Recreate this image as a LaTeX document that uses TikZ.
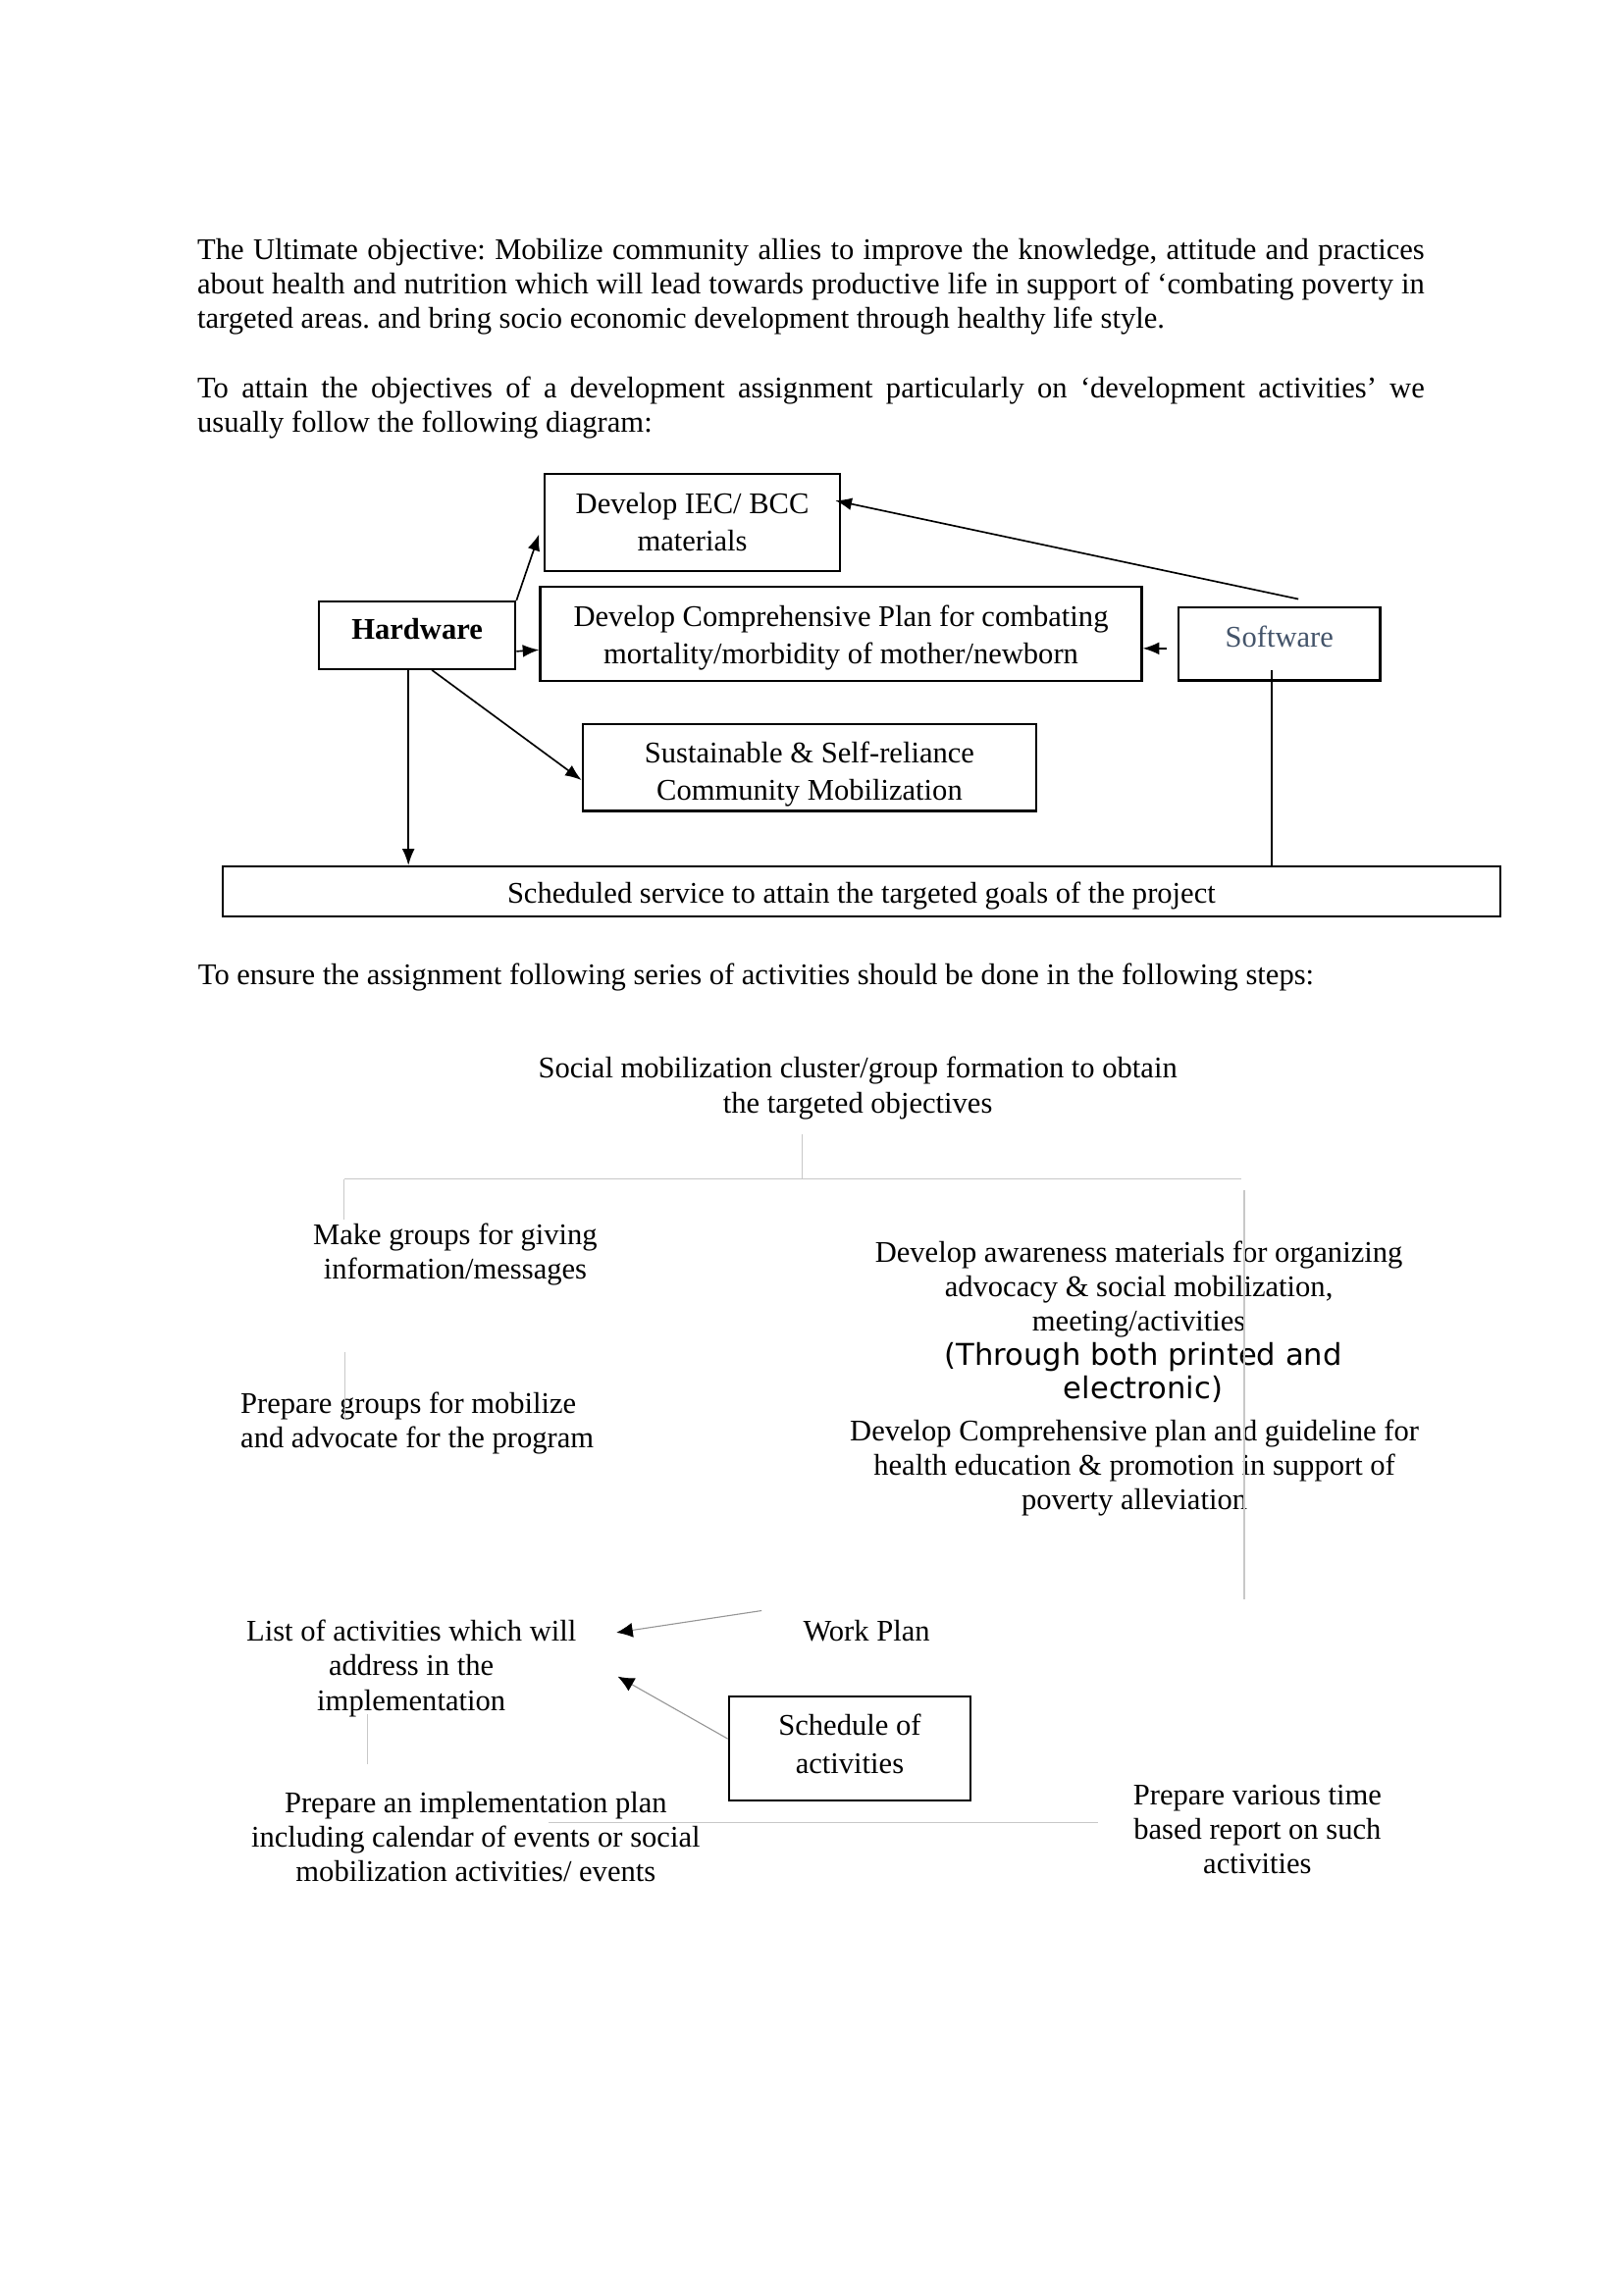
\documentclass[tikz,border=0pt]{standalone}
\usepackage{fontspec}
\setmainfont{Liberation Serif}
\newfontfamily\dejavu{DejaVu Sans}
\usetikzlibrary{arrows.meta, positioning, calc}
\definecolor{softblue}{RGB}{68,84,106}
\definecolor{chartgray}{RGB}{200,200,200}
\definecolor{arrgray}{RGB}{150,150,150}

\begin{document}
\frenchspacing
\begin{tikzpicture}[x=0.5368pt, y=-0.5368pt, font=\fontsize{11}{12.65}\selectfont,
    box/.style={draw, line width=0.8pt, inner sep=0pt, align=center, font=\fontsize{11}{13.7}\selectfont},
    txt/.style={inner sep=0pt, align=center, yshift=-1.3pt},
    arr/.style={-{Latex[length=6pt,width=4.6pt]}, line width=0.6pt},
    grayarr/.style={-{Latex[length=6pt,width=5.4pt,color=black]}, draw=arrgray, line width=0.4pt},
    grayline/.style={draw=chartgray, line width=0.5pt}]
    \useasboundingbox (0,0) rectangle (1109,1568);

    \node[txt, align=justify, text width=450pt] (goal) at (554,193.5)
        {The Ultimate objective: Mobilize community allies to improve the knowledge, attitude and practices\linebreak
         about health and nutrition which will lead towards productive life in support of ‘combating poverty in\linebreak
         targeted areas. and bring socio economic development through healthy life style.};
    \node[txt, align=justify, text width=450pt] (attain) at (554,276)
        {To attain the objectives of a development assignment particularly on ‘development activities’ we\linebreak
         usually follow the following diagram:};

    \node[box, minimum width=72pt, minimum height=24.7pt, text height=8pt, text depth=4.8pt,
          font=\fontsize{11}{13.7}\selectfont\bfseries] (hw) at (285,434) {Hardware};
    \node[box, minimum width=108.4pt, minimum height=35.4pt, text height=22.8pt, text depth=2pt] (iec) at (473,357)
        {Develop IEC/ BCC\\materials};
    \node[box, minimum width=220.6pt, minimum height=34.4pt, text height=24.2pt, text depth=2pt] (plan) at (574.5,433)
        {Develop Comprehensive Plan for combating\\mortality/morbidity of mother/newborn};
    \node[box, minimum width=74pt, minimum height=26.8pt, text height=8pt, text depth=6pt, text=softblue] (sw) at (874,440)
        {Software};
    \node[box, minimum width=166.4pt, minimum height=31.7pt, text height=25.8pt, text depth=2pt] (sus) at (553,524.5)
        {Sustainable \& Self-reliance\\Community Mobilization};
    \node[box, minimum width=468.6pt, minimum height=18.3pt, text height=10pt, text depth=1pt] (sched) at (588.5,609)
        {Scheduled service to attain the targeted goals of the project};

    \coordinate (hwdown) at ($(hw.south)+(-6,0)$);
    \coordinate (swdown) at ($(sw.south)+(-5,-8)$);
    \draw[arr] (hw.north east) -- ($(iec.west)+(-3,8)$);
    \draw[arr] ($(hw.east)+(0,11)$) -- ($(plan.west)+(0,11)$);
    \draw[arr] ($(hw.south)+(10,0)$) -- ($(sus.west)+(0,8.5)$);
    \draw[arr] (hwdown) -- (hwdown |- sched.north);
    \draw[arr] ($(sw.north)+(13,-5)$) -- ($(iec.east)+(-4,-15)$);
    \draw[arr] ($(sw.west)+(-7,3)$) -- ($(plan.east)+(0,10)$);
    \draw[line width=0.6pt] (swdown) -- (swdown |- sched.north);

    \node[txt, anchor=west] (ensure) at (135,665)
        {To ensure the assignment following series of activities should be done in the following steps:};

    \node[txt] (cluster) at (586,741) {Social mobilization cluster/group formation to obtain\\the targeted objectives};
    \node[txt] (groups) at (311,854.5) {Make groups for giving\\information/messages};
    \node[txt, anchor=west, align=left] (advocate) at (164,970) {Prepare groups for mobilize\\and advocate for the program};
    \node[txt] (aware) at (778,878.5)
        {Develop awareness materials for organizing\\advocacy \& social mobilization,\\meeting/activities};
    \node[txt, font=\dejavu\fontsize{11}{12.4}\selectfont] (media) at (781,935.5) {(Through both printed and\\electronic)};
    \node[txt] (guide) at (775,1000.5)
        {Develop Comprehensive plan and guideline for\\health education \& promotion in support of\\poverty alleviation};
    \node[txt] (work) at (592,1112) {Work Plan};
    \node[txt] (list) at (281,1137.5) {List of activities which will\\address in the\\implementation};
    \node[box, minimum width=88.6pt, minimum height=38.1pt, text height=20.1pt, text depth=2pt] (sched2) at (580.5,1194.5)
        {Schedule of\\activities};
    \node[txt] (implan) at (325,1252.5)
        {Prepare an implementation plan\\including calendar of events or social\\mobilization activities/ events};
    \node[txt] (report) at (859,1247.5) {Prepare various time\\based report on such\\activities};

    \draw[grayarr] ($(work.west)+(-28,-14)$) -- ($(list.east)+(27,-24.5)$);
    \draw[grayarr] ($(sched2.west)+(0,-6.5)$) -- ($(list.east)+(28,5.5)$);

    \foreach \ax/\ay/\bx/\by in {548/775/548/805.5, 235/805.5/848/805.5, 235/805.5/235/833,
                                 850/813/850/1093, 235.5/924/235.5/970, 251/1171/251/1205, 375/1245/750/1245}
        \draw[grayline] (\ax,\ay) -- (\bx,\by);
\end{tikzpicture}
\end{document}
